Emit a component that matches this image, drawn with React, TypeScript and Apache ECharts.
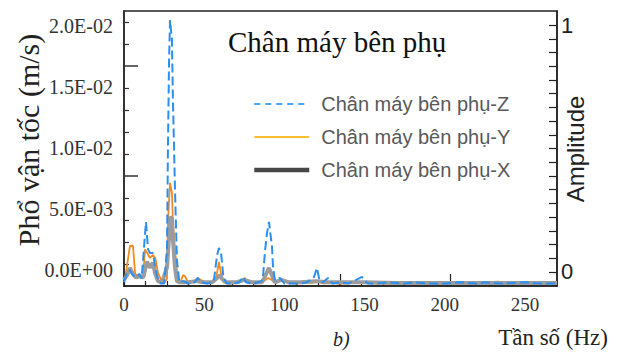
import React, { useEffect, useRef } from "react";
import * as echarts from "echarts";

// Values in units of 1e-3 m/s
const SCALE = 1e-3;

const zFreq = [0,1.5,3.5,5.5,7.5,9.5,11,13.7,15,16.2,18.1,19.5,21.2,23,25,26.8,27.4,28.1,28.7,29.9,30.5,31.8,33,34.5,37,40,44,46,48,52,56,58,59.2,60.5,62,64,68,72,74.2,76,80,84,86.5,88,89.2,90.4,92.3,92.9,94.1,97.3,100,105,110,114,118.5,120.3,122,124,127.2,130,135,140,148.4,152,158,165,175,180,190,200,210,220,225,235,250,260,270];
const zVel = [0.3,1.0,1.3,0.9,0.7,1.0,0.6,5.25,3.0,2.7,2.7,1.5,0.5,0.2,0.2,2.95,11.2,18.5,21.8,20.2,15.3,7.9,2.1,0.3,0.4,0.2,0.3,0.66,0.3,0.2,0.4,2.5,3.12,2.7,0.7,0.2,0.2,0.3,0.74,0.3,0.2,0.3,0.5,2.95,4.35,5.25,3.2,1.56,0.49,0.66,0.2,0.2,0.2,0.3,0.74,1.48,0.4,0.3,0.66,0.2,0.3,0.2,0.74,0.2,0.2,0.3,0.2,0.3,0.2,0.2,0.3,0.2,0.3,0.2,0.3,0.2,0.2];

const yFreq = [0,1,3.7,5.6,6.9,8.5,10.5,12,13.1,14.5,16.2,18.1,19.5,21.2,23.7,25.5,26.8,27.4,28.7,29.9,30.5,31.8,33,35,36.8,38,40,43,46,48,50,55,57.5,59.2,60.5,62,66,70,75.4,77,82,86,90,92,95,98.5,102,108,112,117,121,125,128.5,133,138,145,149,155,165,175,185,195,205,215,233,240,255,270];
const yVel = [0.5,0.9,3.28,3.3,1.07,0.74,0.74,1.0,3.0,2.7,2.3,2.54,2.3,1.07,0.33,0.3,0.6,5.17,8.45,7.63,5.17,2.95,1.07,0.25,0.9,0.8,0.3,0.3,0.66,0.5,0.33,0.3,0.7,1.97,1.0,0.3,0.2,0.3,0.66,0.3,0.2,0.3,0.66,0.5,0.3,0.49,0.3,0.2,0.3,0.25,0.33,0.2,0.33,0.2,0.2,0.3,0.33,0.2,0.2,0.2,0.25,0.2,0.2,0.2,0.35,0.2,0.2,0.2];

const xFreq = [0,2,3.7,5.5,7.5,10,12,14.3,16.2,18,19.5,21.2,23.7,26.8,28.1,28.7,29.9,30.5,31.8,33,35,40,45,50,55,58.5,59.9,61,64,70,75,80,86,88,90.4,92.5,94,98,103,110,120,127,135,150,170,200,230,270];
const xVel = [0.5,0.9,1.48,1.0,0.7,0.8,0.7,2.0,1.5,1.9,1.0,0.4,0.3,1.5,4.0,5.66,5.5,3.8,1.5,0.4,0.3,0.3,0.4,0.3,0.3,0.7,0.9,0.6,0.3,0.3,0.5,0.3,0.3,0.8,1.48,0.8,0.3,0.5,0.3,0.3,0.4,0.3,0.3,0.3,0.25,0.25,0.25,0.25];

const seriesNames = ["Chân máy bên phụ-Z", "Chân máy bên phụ-Y", "Chân máy bên phụ-X"];

const xLabelValues = [0, 50, 100, 150, 200, 250];
const yLabelValues = [0, 0.005, 0.01, 0.015, 0.02];
const yLabelTexts = ["0.0E+00", "5.0E-03", "1.0E-02", "1.5E-02", "2.0E-02"];
const ampLabelValues = [0, 1];

const title = "Chân máy bên phụ";
const yName = "Phổ vận tốc (m/s)";
const xName = "Tần số (Hz)";
const ampName = "Amplitude";
const caption = "b)";

const xTicks = Array.from({ length: 21 }, (_, k) => k * 13.45);
const xLongTicks = [134.7, 203.2];
const leftMinorTicks = Array.from({ length: 12 }, (_, k) => 0.00049 + k * 0.0018033).filter((_, k) => k !== 4 && k !== 9);
const leftLongTicks = [0.00049 + 4 * 0.0018033, 0.00049 + 9 * 0.0018033];
const rightTicks = Array.from({ length: 19 }, (_, k) => k / 18);

export default function App() {
  const ref = useRef<HTMLDivElement>(null);
  useEffect(() => {
    if (!ref.current) return;
    const chart = echarts.init(ref.current, undefined, { renderer: "svg" });
    const pair = (f: number[], v: number[]) => f.map((x, i) => [x, v[i] * SCALE]);
    const serif = "'Liberation Serif', 'Times New Roman', serif";
    const sans = "'Liberation Sans', Arial, sans-serif";
    const option: any = {
      animation: false,
      backgroundColor: "#ffffff",
      grid: { left: 124, top: 11, right: 81, bottom: 66, show: true, borderColor: "#222", borderWidth: 1.5, backgroundColor: "transparent" },
      xAxis: [
        {
          type: "value", min: 0, max: 270,
          axisLine: { show: true, onZero: false, lineStyle: { color: "#222", width: 1.5 } },
          axisTick: { show: true, inside: true, length: 5, customValues: xTicks, lineStyle: { color: "#222", width: 1.2 } },
          axisLabel: { customValues: xLabelValues, fontFamily: serif, fontSize: 19, color: "#333", margin: 9 },
          splitLine: { show: false },
        },
        {
          type: "value", min: 0, max: 270, position: "bottom",
          axisLine: { show: false },
          axisTick: { show: true, inside: true, length: 12, customValues: xLongTicks, lineStyle: { color: "#222", width: 1.2 } },
          axisLabel: { show: false },
          splitLine: { show: false },
        },
      ],
      yAxis: [
        { type: "value", min: 0, max: 0.02254, show: false },
        {
          type: "value", position: "left", min: -0.00131, max: 0.02123,
          axisLine: { show: true, lineStyle: { color: "#333", width: 2 } },
          axisTick: { show: true, inside: true, length: 5, customValues: leftMinorTicks, lineStyle: { color: "#333", width: 1.2 } },
          axisLabel: {
            customValues: yLabelValues,
            formatter: (v: number) => {
              let best = 0;
              yLabelValues.forEach((t, i) => { if (Math.abs(t - v) < Math.abs(yLabelValues[best] - v)) best = i; });
              return yLabelTexts[best];
            },
            fontFamily: serif, fontSize: 20, color: "#333", margin: 11,
          },
          splitLine: { show: false },
        },
        {
          type: "value", position: "left", min: -0.00131, max: 0.02123,
          axisLine: { show: false },
          axisTick: { show: true, inside: true, length: 14, customValues: leftLongTicks, lineStyle: { color: "#333", width: 1.5 } },
          axisLabel: { show: false },
          splitLine: { show: false },
        },
        {
          type: "value", position: "right", min: -0.057, max: 1.057,
          axisLine: { show: true, lineStyle: { color: "#222", width: 1.5 } },
          axisTick: { show: true, inside: true, length: 8, customValues: rightTicks, lineStyle: { color: "#222", width: 1.2 } },
          axisLabel: { customValues: ampLabelValues, formatter: (v: number) => String(Math.round(v)), fontFamily: sans, fontSize: 22, color: "#222", margin: 4 },
          splitLine: { show: false },
        },
      ],
      legend: {
        orient: "vertical", left: 247, top: 89, itemWidth: 55, itemHeight: 20, itemGap: 13,
        textStyle: { fontFamily: sans, fontSize: 20, color: "#595959", padding: [0, 0, 0, 7] },
        data: [
          { name: seriesNames[0], itemStyle: { opacity: 0 }, lineStyle: { color: "#4aa3f7", width: 2, type: [6, 5], opacity: 1 } },
          { name: seriesNames[1], itemStyle: { opacity: 0 }, lineStyle: { color: "#fbc02d", width: 2, opacity: 1 } },
          { name: seriesNames[2], itemStyle: { opacity: 0 }, lineStyle: { color: "#474747", width: 4.5, opacity: 1 } },
        ],
      },
      series: [
        {
          name: seriesNames[1], type: "line", symbol: "none", showSymbol: false, z: 2,
          data: pair(yFreq, yVel), lineStyle: { color: "#f28a22", width: 1.8 }, itemStyle: { color: "#f28a22" },
        },
        {
          name: seriesNames[2], type: "line", symbol: "none", showSymbol: false, z: 3,
          data: pair(xFreq, xVel), lineStyle: { color: "#9c9c9c", width: 4 }, itemStyle: { color: "#9c9c9c" },
        },
        {
          name: seriesNames[0], type: "line", symbol: "none", showSymbol: false, z: 4,
          data: pair(zFreq, zVel), lineStyle: { color: "#2b8ff0", width: 2, type: [9, 4] }, itemStyle: { color: "#2b8ff0" },
        },
      ],
      graphic: [
        { type: "text", left: 228, top: 27, style: { text: title, font: `29px ${serif}`, fill: "#111" } },
        { type: "text", x: 28, y: 140, rotation: Math.PI / 2, style: { text: yName, font: `30px ${serif}`, fill: "#222", align: "center", verticalAlign: "middle" } },
        { type: "text", x: 575, y: 149, rotation: Math.PI / 2, style: { text: ampName, font: `24px ${sans}`, fill: "#222", align: "center", verticalAlign: "middle" } },
        { type: "text", x: 608, y: 337, style: { text: xName, font: `23px ${serif}`, fill: "#222", align: "right", verticalAlign: "middle" } },
        { type: "text", x: 333, y: 339, style: { text: caption, font: `italic 20px ${serif}`, fill: "#222", align: "left", verticalAlign: "middle" } },
      ],
    };
    chart.setOption(option);
    return () => chart.dispose();
  }, []);
  return <div ref={ref} style={{ position: "fixed", left: 0, top: 0, width: 638, height: 352 }} />;
}
